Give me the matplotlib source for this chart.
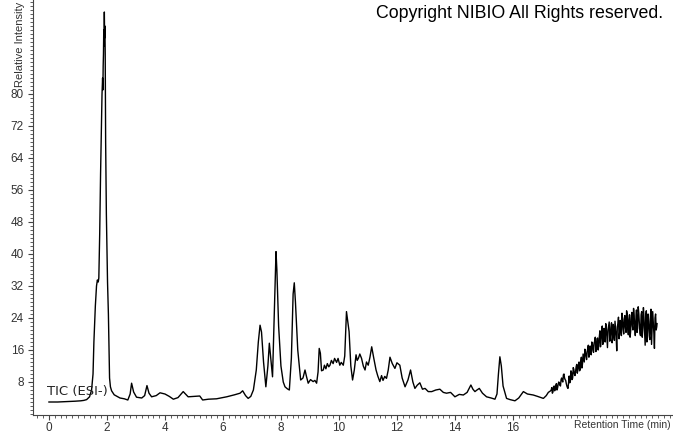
import matplotlib
matplotlib.use("Agg")
import matplotlib.pyplot as plt
from matplotlib.ticker import MultipleLocator

# retention time (min) and relative intensity
rt_main = [
    0.00, 0.30, 0.60, 0.90, 1.10, 1.20, 1.30, 1.40, 1.47, 1.52, 1.55, 1.60,
    1.64, 1.67, 1.70, 1.72, 1.75, 1.78, 1.80, 1.83, 1.85, 1.86, 1.87, 1.88,
    1.89, 1.90, 1.91, 1.92, 1.93, 1.94, 1.955, 1.98, 2.02, 2.05, 2.07, 2.09,
    2.12, 2.16, 2.25, 2.45, 2.60, 2.72, 2.80, 2.85, 2.92, 3.02, 3.20, 3.30,
    3.38, 3.45, 3.54, 3.70, 3.83, 4.00, 4.15, 4.29, 4.45, 4.63, 4.80, 5.00,
    5.20, 5.30, 5.50, 5.78, 6.13, 6.40, 6.59, 6.68, 6.78, 6.87, 6.96, 7.05,
    7.15, 7.22, 7.28, 7.33, 7.40, 7.48, 7.55, 7.60, 7.65, 7.71, 7.77, 7.83,
    7.86, 7.92, 8.00, 8.08, 8.14, 8.22, 8.29, 8.36, 8.42, 8.46, 8.50, 8.58,
    8.68, 8.76, 8.83, 8.88, 8.94, 9.02, 9.11, 9.17, 9.23, 9.28, 9.32, 9.36,
    9.40, 9.46, 9.50, 9.55, 9.60, 9.65, 9.69, 9.74, 9.80, 9.85, 9.92, 9.97,
    10.03, 10.08, 10.15, 10.20, 10.26, 10.29, 10.35, 10.41, 10.47, 10.53,
    10.59, 10.63, 10.67, 10.72, 10.78, 10.84, 10.90, 10.95, 11.01, 11.07,
    11.13, 11.20, 11.28, 11.34, 11.41, 11.47, 11.52, 11.58, 11.64, 11.70,
    11.76, 11.84, 11.93, 12.00, 12.10, 12.18, 12.28, 12.38, 12.47, 12.55,
    12.62, 12.70, 12.79, 12.88, 12.97, 13.08, 13.20, 13.34, 13.48, 13.60,
    13.71, 13.85, 14.00, 14.15, 14.29, 14.42, 14.55, 14.62, 14.69, 14.76,
    14.84, 14.95, 15.09, 15.25, 15.38, 15.45, 15.50, 15.55, 15.60, 15.66,
    15.78, 15.90, 16.07, 16.20, 16.36, 16.50, 16.70, 16.85, 17.05, 17.15,
    17.22,
]
int_main = [
    3.0, 3.0, 3.1, 3.2, 3.3, 3.4, 3.6, 4.3, 6.0, 10.0, 18.0, 27.0,
    32.0, 33.5, 33.0, 34.0, 45.0, 60.0, 68.0, 80.0, 84.0, 81.0, 87.0, 90.0,
    96.0, 92.0, 100.5, 94.0, 97.0, 90.0, 68.0, 50.0, 33.0, 25.0, 17.0, 9.0,
    6.8, 5.8, 4.8, 4.0, 3.8, 3.5, 5.0, 7.7, 5.5, 4.2, 4.0, 4.6,
    7.1, 5.2, 4.3, 4.6, 5.3, 5.0, 4.4, 3.7, 4.1, 5.6, 4.3, 4.4,
    4.5, 3.5, 3.7, 3.8, 4.3, 4.8, 5.2, 5.8, 4.6, 3.9, 4.4, 6.0,
    11.0, 18.0, 22.2, 20.5, 13.0, 6.8, 12.0, 17.7, 14.0, 9.3, 25.0, 40.6,
    36.0, 22.0, 12.0, 8.0, 6.8, 6.3, 6.0, 14.0, 30.0, 32.8, 28.0, 16.0,
    8.5, 9.0, 11.0, 9.4, 7.7, 8.6, 8.1, 8.4, 7.7, 10.5, 16.4, 15.2,
    10.8, 11.0, 12.2, 11.3, 12.6, 11.8, 12.2, 13.4, 12.6, 13.9, 12.9, 13.9,
    12.2, 12.9, 12.2, 14.5, 25.6, 24.0, 20.6, 12.0, 8.5, 11.0,
    14.8, 13.4, 13.9, 15.0, 13.9, 12.0, 11.0, 13.0, 12.2, 14.2,
    16.8, 14.0, 11.0, 9.5, 8.1, 9.6, 8.4, 9.4, 8.9, 11.0,
    14.2, 12.6, 11.4, 12.8, 12.2, 9.0, 6.8, 8.5, 11.0, 8.0,
    6.4, 7.2, 7.8, 6.2, 6.4, 5.6, 5.6, 6.0, 6.2, 5.4,
    5.2, 5.4, 4.3, 4.9, 4.75, 5.4, 7.25, 6.2, 5.6, 6.0,
    6.4, 5.2, 4.3, 4.0, 3.7, 5.0, 10.0, 14.3, 12.0, 7.0,
    3.9, 3.6, 3.3, 4.0, 5.6, 5.0, 4.75, 4.4, 3.9, 4.6,
    5.4,
]

# noisy gradient tail, scans (two interleaved sets)
rt_tail_a = [
    17.30, 17.34, 17.38, 17.42, 17.46, 17.50, 17.54, 17.58, 17.62, 17.66,
    17.70, 17.74, 17.78, 17.82, 17.86, 17.90, 17.94, 17.98, 18.02, 18.06,
    18.10, 18.14, 18.18, 18.22, 18.26, 18.30, 18.34, 18.38, 18.42, 18.46,
    18.50, 18.54, 18.58, 18.62, 18.66, 18.70, 18.74, 18.78, 18.82, 18.86,
    18.90, 18.94, 18.98, 19.02, 19.06, 19.10, 19.14, 19.18, 19.22, 19.26,
    19.30, 19.34, 19.38, 19.42, 19.46, 19.50, 19.54, 19.58, 19.62, 19.66,
    19.70, 19.74, 19.78, 19.82, 19.86, 19.90, 19.94, 19.98, 20.02, 20.06,
    20.10, 20.14, 20.18, 20.22, 20.26, 20.30, 20.34, 20.38, 20.42, 20.46,
    20.50, 20.54, 20.58, 20.62, 20.66, 20.70, 20.74, 20.78, 20.82, 20.86,
    20.90, 20.94, 20.97,
]
int_tail_a = [
    5.8, 6.6, 5.5, 7.0, 6.2, 7.6, 6.5, 8.0, 7.2, 8.6,
    8.3, 9.8, 9.0, 8.4, 7.0, 6.4, 9.5, 8.2, 10.4, 9.0,
    11.2, 9.6, 11.8, 10.2, 12.4, 10.8, 13.2, 11.5, 15.0, 13.0,
    15.8, 13.6, 16.4, 14.2, 17.0, 14.8, 17.6, 15.4, 18.2, 15.6,
    18.8, 16.0, 19.4, 16.8, 20.6, 17.4, 21.4, 18.0, 21.8, 16.6,
    22.0, 18.2, 21.6, 17.8, 22.4, 18.4, 21.2, 15.8, 22.6, 18.8,
    23.4, 19.6, 24.0, 20.0, 24.6, 20.4, 25.0, 19.8, 24.8, 20.8,
    25.4, 21.0, 24.6, 19.6, 26.0, 21.4, 25.2, 20.2, 24.8, 19.2,
    26.6, 20.6, 24.4, 18.0, 25.0, 19.6, 24.2, 17.4, 25.6, 20.2,
    24.0, 21.0, 22.6,
]
rt_tail_b = [
    17.32, 17.36, 17.40, 17.44, 17.48, 17.52, 17.56, 17.60, 17.64, 17.68,
    17.72, 17.76, 17.80, 17.84, 17.88, 17.92, 17.96, 18.00, 18.04, 18.08,
    18.12, 18.16, 18.20, 18.24, 18.28, 18.32, 18.36, 18.40, 18.44, 18.48,
    18.52, 18.56, 18.60, 18.64, 18.68, 18.72, 18.76, 18.80, 18.84, 18.88,
    18.92, 18.96, 19.00, 19.04, 19.08, 19.12, 19.16, 19.20, 19.24, 19.28,
    19.32, 19.36, 19.40, 19.44, 19.48, 19.52, 19.56, 19.60, 19.64, 19.68,
    19.72, 19.76, 19.80, 19.84, 19.88, 19.92, 19.96, 20.00, 20.04, 20.08,
    20.12, 20.16, 20.20, 20.24, 20.28, 20.32, 20.36, 20.40, 20.44, 20.48,
    20.52, 20.56, 20.60, 20.64, 20.68, 20.72, 20.76, 20.80, 20.84, 20.88,
    20.92, 20.96,
]
int_tail_b = [
    6.0, 5.2, 6.8, 5.8, 7.2, 6.0, 7.4, 7.8, 7.0, 9.0,
    8.0, 10.0, 8.6, 7.6, 6.6, 8.0, 7.8, 10.8, 8.6, 11.6,
    10.0, 10.6, 12.4, 11.0, 13.0, 11.2, 14.2, 12.6, 14.0, 16.2,
    14.4, 15.4, 17.2, 15.0, 16.2, 18.0, 16.0, 17.8, 19.2, 16.4,
    19.0, 17.2, 20.8, 18.4, 22.0, 18.8, 20.4, 22.6, 19.2, 21.0,
    23.0, 19.6, 22.8, 19.0, 21.0, 23.2, 19.4, 21.8, 24.2, 20.4,
    22.4, 25.2, 21.2, 23.6, 21.6, 25.8, 21.4, 23.6, 19.2, 24.2,
    22.0, 26.4, 21.8, 23.6, 20.4, 26.8, 22.6, 19.6, 25.6, 21.6,
    24.0, 17.2, 25.8, 20.8, 23.2, 18.6, 26.2, 21.6, 23.0, 16.4,
    25.0, 21.8,
]

x_ticks = [0, 2, 4, 6, 8, 10, 12, 14, 16]
y_ticks = [8, 16, 24, 32, 40, 48, 56, 64, 72, 80]

tail = sorted(zip(rt_tail_a + rt_tail_b, int_tail_a + int_tail_b))
rt = rt_main + [p[0] for p in tail]
intensity = int_main + [p[1] for p in tail]

plt.rcParams['font.family'] = ['Liberation Sans', 'DejaVu Sans']

fig = plt.figure(figsize=(6.73, 4.33), dpi=100)
ax = fig.add_axes([33 / 673, 18 / 433, 640 / 673, 415 / 433])

ax.plot(rt, intensity, color='black', lw=1.0)

ax.set_xlim(-0.55, 21.52)
ax.set_ylim(-0.25, 103.5)

for side in ['top', 'right']:
    ax.spines[side].set_visible(False)
for side in ['left', 'bottom']:
    ax.spines[side].set_color('#444444')
    ax.spines[side].set_linewidth(0.8)

ax.set_xticks(x_ticks)
ax.set_yticks(y_ticks)
ax.xaxis.set_minor_locator(MultipleLocator(0.2))
ax.yaxis.set_minor_locator(MultipleLocator(1))
ax.tick_params(which='major', length=3.5, width=0.8, color='#444444',
               labelsize=8.5, labelcolor='#333333', pad=3)
ax.tick_params(axis='x', which='major', pad=1.5)
ax.tick_params(which='minor', length=2, width=0.6, color='#444444')

fig.text(20 / 673, 1 - 2 / 433, 'Relative Intensity', rotation=90,
         ha='center', va='top', fontsize=8, color='#333333')
fig.text(1 - 2 / 673, 3 / 433, 'Retention Time (min)', ha='right',
         va='bottom', fontsize=7.5, color='#333333')
fig.text(376 / 673, 1 - 14 / 433, 'Copyright NIBIO All Rights reserved.',
         ha='left', va='center', fontsize=12.8, color='black')
ax.text(-0.07, 4.1, 'TIC (ESI-)', ha='left', va='bottom', fontsize=9.5,
        family='DejaVu Sans', color='#222222')

fig.savefig('out.png', dpi=100)
